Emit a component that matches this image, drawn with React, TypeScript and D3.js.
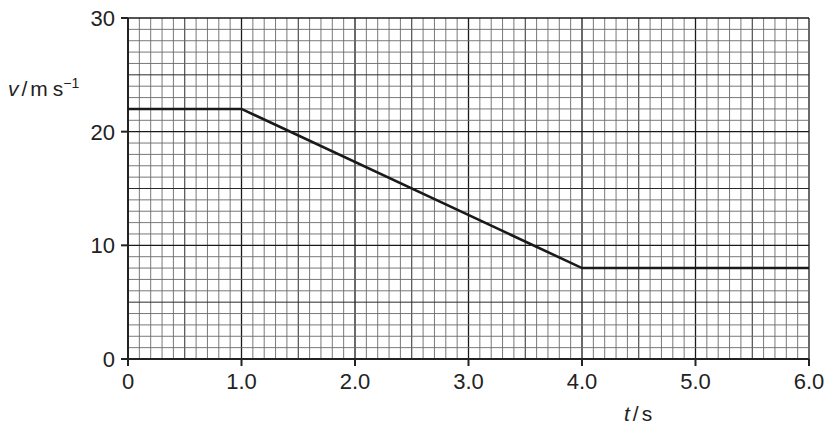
import React from "react";
import * as d3 from "d3";

// velocity-time data
const timeValues = [0, 1.0, 4.0, 6.0];
const velocityValues = [22, 22, 8, 8];
const xTickValues = [0, 1, 2, 3, 4, 5, 6];
const xTickLabels = ["0", "1.0", "2.0", "3.0", "4.0", "5.0", "6.0"];
const yTickValues = [0, 10, 20, 30];
const yTickLabels = ["0", "10", "20", "30"];

const W = 834;
const H = 438;
const margin = { top: 18, right: 25, bottom: 79, left: 128 };

const App = () => {
  const x = d3.scaleLinear().domain([0, 6]).range([margin.left, W - margin.right]);
  const y = d3.scaleLinear().domain([0, 30]).range([H - margin.bottom, margin.top]);

  const line = d3
    .line<number>()
    .x((d, i) => x(timeValues[i]))
    .y((d) => y(d));

  // grid: minor every 0.1 s / 1 m/s, mid every 0.5 s / 5 m/s, major every 1 s / 10 m/s
  const xMinor = d3.range(0, 61).map((i) => i / 10);
  const yMinor = d3.range(0, 31);

  const gridStyle = (i: number) =>
    i % 10 === 0
      ? { stroke: "#1a1a1a", w: 1.3 }
      : i % 5 === 0
      ? { stroke: "#2a2a2a", w: 1 }
      : { stroke: "#6a6a6a", w: 0.9 };

  const font = "'Liberation Sans', Arial, sans-serif";

  return (
    <svg
      width={W}
      height={H}
      style={{ position: "absolute", left: 0, top: 0, background: "#fff" }}
      fontFamily={font}
    >
      {xMinor.map((t, i) => {
        const s = gridStyle(i);
        return (
          <line
            key={"gx" + i}
            x1={x(t)}
            x2={x(t)}
            y1={y(0)}
            y2={y(30)}
            stroke={s.stroke}
            strokeWidth={s.w}
          />
        );
      })}
      {yMinor.map((v, i) => {
        const s = gridStyle(i);
        return (
          <line
            key={"gy" + i}
            x1={x(0)}
            x2={x(6)}
            y1={y(v)}
            y2={y(v)}
            stroke={s.stroke}
            strokeWidth={s.w}
          />
        );
      })}

      {/* axes */}
      <line x1={x(0)} x2={x(0)} y1={y(30)} y2={y(0) + 7} stroke="#222" strokeWidth={2} />
      <line x1={x(0) - 7} x2={x(6)} y1={y(0)} y2={y(0)} stroke="#222" strokeWidth={2} />

      {yTickValues.map((v, i) => (
        <g key={"yt" + i}>
          <line x1={x(0) - 7} x2={x(0)} y1={y(v)} y2={y(v)} stroke="#222" strokeWidth={2} />
          <text
            x={x(0) - 13}
            y={y(v)}
            dy="0.36em"
            textAnchor="end"
            fontSize={22}
            fill="#222"
          >
            {yTickLabels[i]}
          </text>
        </g>
      ))}
      {xTickValues.map((t, i) => (
        <g key={"xt" + i}>
          <line x1={x(t)} x2={x(t)} y1={y(0)} y2={y(0) + 7} stroke="#222" strokeWidth={2} />
          <text x={x(t)} y={y(0) + 30} textAnchor="middle" fontSize={22} fill="#222">
            {xTickLabels[i]}
          </text>
        </g>
      ))}

      {/* data line */}
      <path
        d={line(velocityValues) ?? ""}
        fill="none"
        stroke="#1a1a1a"
        strokeWidth={2.6}
        strokeLinejoin="miter"
      />

      {/* axis labels */}
      <text x={8} y={96} fontSize={21} fill="#222">
        <tspan fontStyle="italic">v</tspan>
        <tspan dx={3}>/</tspan>
        <tspan dx={3}>m</tspan>
        <tspan dx={5}>s</tspan>
        <tspan dy={-8} fontSize={14}>−1</tspan>
      </text>
      <text x={624} y={421} fontSize={21} fill="#222">
        <tspan fontStyle="italic">t</tspan>
        <tspan dx={3}>/</tspan>
        <tspan dx={3}>s</tspan>
      </text>
    </svg>
  );
};

export default App;
